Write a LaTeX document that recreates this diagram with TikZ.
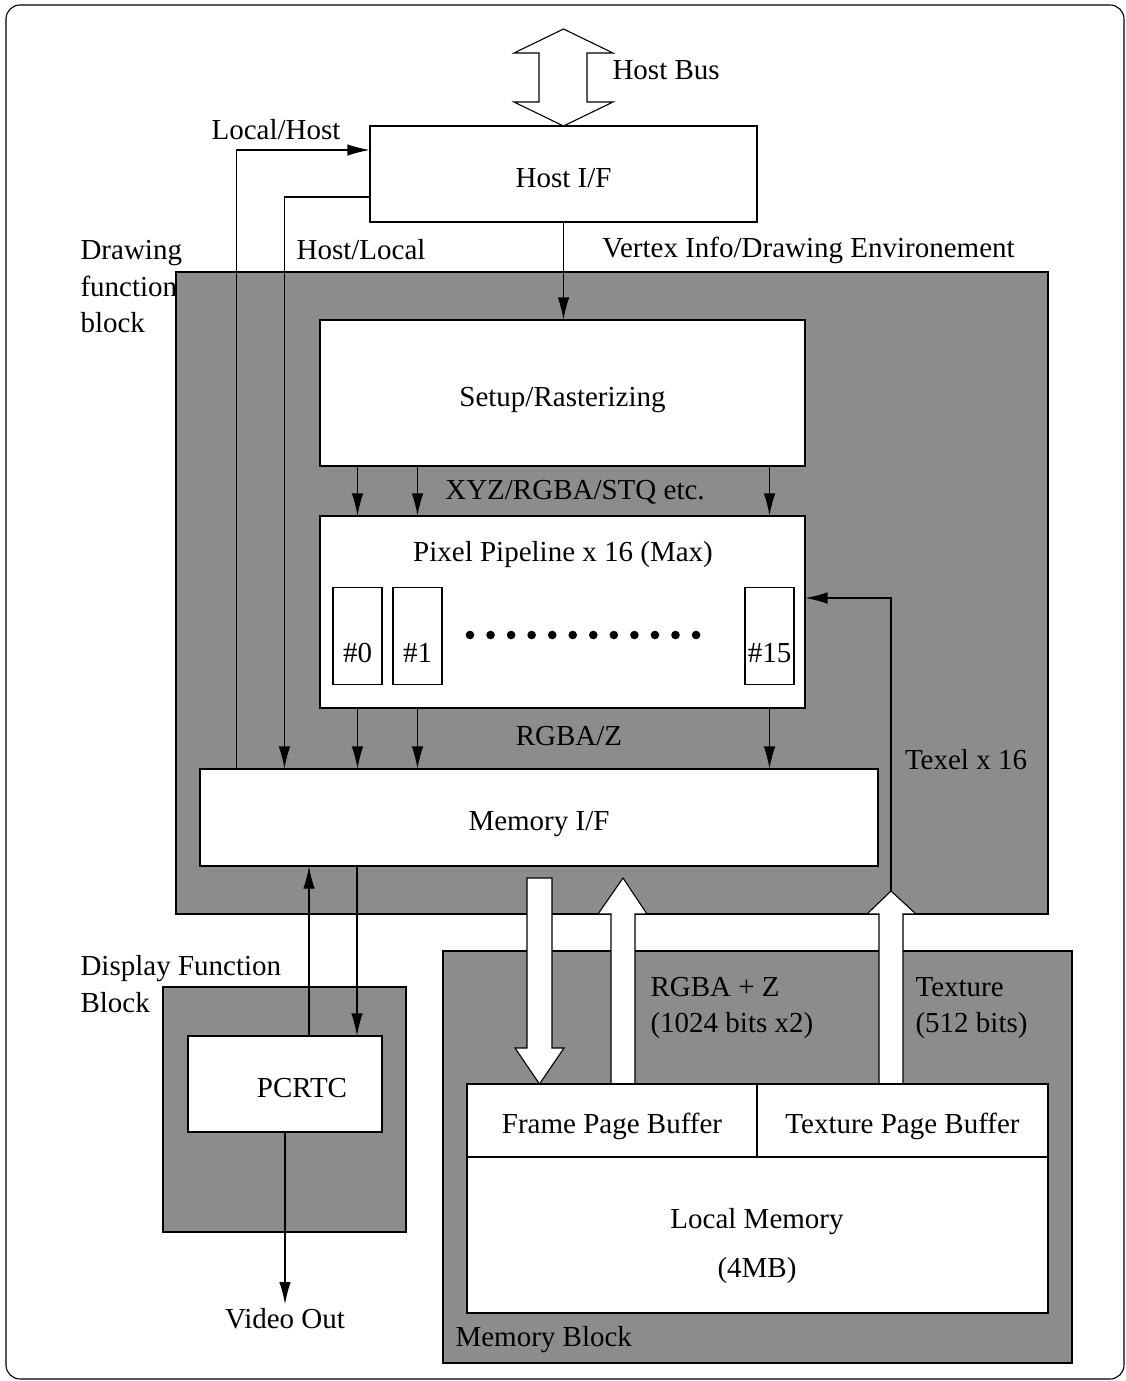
\documentclass[tikz,border=0pt]{standalone}
\usepackage{fontspec}
\setmainfont{Liberation Serif}
\usepackage{tikz}
\usetikzlibrary{arrows.meta,calc}

\definecolor{blockgray}{gray}{0.55}

\begin{document}
\begin{tikzpicture}[x=1pt,y=-1pt,line width=1.1pt,
    font=\fontsize{29}{36.5}\selectfont,
    box/.style={draw,fill=white,inner sep=0pt,text height=26pt,text depth=0pt},
    blk/.style={draw,fill=blockgray},
    arr/.style={-{Latex[length=22pt,width=11.5pt]}},
    fat/.style={draw,fill=white,line join=miter},
    side/.style={anchor=west,inner sep=0pt,align=left}]

\useasboundingbox (0,0) rectangle (1126,1381);
\draw[rounded corners=14pt] (6,5) rectangle (1124,1379);

% function blocks
\draw[blk] (176,272) rectangle (1048,914);
\draw[blk] (163,987) rectangle (406,1232);
\draw[blk] (443,951) rectangle (1072,1363);

\node[box,minimum width=387,minimum height=96] (hostif) at (563.5,174) {Host I/F};
\node[box,minimum width=485,minimum height=146] (setup) at (562.5,393) {Setup/Rasterizing};
\node[box,minimum width=485,minimum height=192] (pipe) at (562.5,612) {};
\node (pipetitle) at (563,555) {Pixel Pipeline x 16 (Max)};
\foreach \n/\x in {0/357.5,1/417.5,15/769.5}{
    \node[box,minimum width=49,minimum height=97] (pe\n) at (\x,636) {};
    \node[anchor=base] (pelbl\n) at ([yshift=23pt]pe\n.south) {\#\n};
}
\foreach \i in {0,...,11}
    \fill ({470+\i*20.55},635) circle (4.3pt);

\node[box,minimum width=678,minimum height=97] (memif) at (539,817.5) {Memory I/F};
\node[box,minimum width=194,minimum height=96] (pcrtc) at (285,1084) {\hspace*{34pt}PCRTC};

% fat buses
\draw[fat] (539,53) -- (514,53) -- (563.5,29) -- (613,53) -- (587,53) -- (587,102) -- (613,102) -- (563.5,126) -- (514,102) -- (539,102) -- cycle;
\draw[fat] (527,878) -- (552,878) -- (552,1048) -- (564,1048) -- (539.5,1084) -- (515,1048) -- (527,1048) -- cycle;
\draw[fat] (611,1084) -- (611,914) -- (598,914) -- (623,878) -- (647,914) -- (635,914) -- (635,1084) -- cycle;
\draw[fat] (879,1084) -- (879,914) -- (867,914) -- (891,891) -- (916,914) -- (903,914) -- (903,1084) -- cycle;
\coordinate (textip) at (891,891);

\node[box,minimum width=290,minimum height=73] (fpb) at (612,1120.5) {Frame Page Buffer};
\node[box,minimum width=291,minimum height=73] (tpb) at (902.5,1120.5) {Texture Page Buffer};
\node[box,minimum width=581,minimum height=156] (locmem) at (757.5,1235) {};
\node[align=center] (locmemlbl) at (757,1246) {Local Memory\\[12.5pt](4MB)};

% labels
\node[side] (hostbuslbl) at (612,70) {Host Bus};
\node (lhlbl) at (276,130) {Local/Host};
\node (hllbl) at (361,250) {Host/Local};
\node[side] (drawlbl) at (80,287) {Drawing\\function\\block};
\node (vertexlbl) at (808.5,250) {Vertex Info/Drawing Environement};
\node (xyzlbl) at (575,492) {XYZ/RGBA/STQ etc.};
\node (rgbazlbl) at (569,736) {RGBA/Z};
\node (texellbl) at (966,760) {Texel x 16};
\node[side] (displbl) at (80,984) {Display Function\\Block};
\node[side] (rgbabits) at (650,1008) {RGBA + Z\\(1024 bits x2)};
\node[side] (texbits) at (915,1008) {Texture\\(512 bits)};
\node[side] (memblklbl) at (455,1340) {Memory Block};
\node[anchor=north] (videoout) at (285,1304) {Video Out};

% connectors
\draw[arr] (hostif.south) -- (setup.north -| hostif.south);
\foreach \n in {0,1,15}{
    \draw[arr] (setup.south -| pe\n) -- (pipe.north -| pe\n);
    \draw[arr] (pipe.south -| pe\n) -- (memif.north -| pe\n);
}
\draw[arr] ([xshift=37pt]memif.north west) |- ([yshift=24pt]hostif.west);
\draw[arr] ([yshift=-23pt]hostif.west) -| ([xshift=85pt]memif.north west);
\draw[arr] ([xshift=24pt]pcrtc.north) -- ([xshift=24pt]pcrtc.north |- memif.south);
\draw[arr] ([xshift=72pt]pcrtc.north |- memif.south) -- ([xshift=72pt]pcrtc.north);
\draw[arr] (pcrtc.south) -- (videoout.north);
\draw[arr] (textip) |- ([yshift=14pt]pipe.east);

\end{tikzpicture}
\end{document}
